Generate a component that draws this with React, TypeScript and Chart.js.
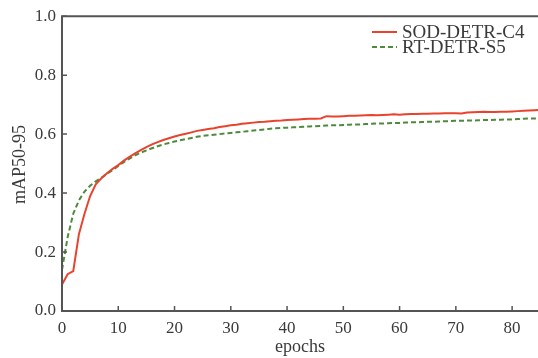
import React, { useEffect, useRef } from "react";
import { Chart, registerables } from "chart.js";

Chart.register(...registerables);

const epochs: number[] = Array.from({ length: 86 }, (_, i) => i);

const sodDetrC4: number[] = [
  0.09, 0.125, 0.135, 0.26, 0.33, 0.39, 0.43, 0.45, 0.467, 0.482,
  0.495, 0.51, 0.523, 0.535, 0.546, 0.556, 0.565, 0.573, 0.58, 0.586,
  0.592, 0.597, 0.601, 0.606, 0.611, 0.614, 0.617, 0.62, 0.624, 0.627,
  0.63, 0.632, 0.635, 0.637, 0.639, 0.641, 0.642, 0.644, 0.645, 0.646,
  0.648, 0.649, 0.65, 0.651, 0.652, 0.652, 0.653, 0.661, 0.66, 0.66,
  0.661, 0.662, 0.662, 0.663, 0.664, 0.665, 0.664, 0.665, 0.666, 0.667,
  0.666, 0.667, 0.668, 0.668, 0.669, 0.669, 0.67, 0.67, 0.671, 0.671,
  0.671, 0.67, 0.673, 0.674, 0.675, 0.676, 0.675, 0.675, 0.676, 0.676,
  0.677, 0.678, 0.679, 0.68, 0.681, 0.682,
];

const rtDetrS5: number[] = [
  0.14, 0.25, 0.33, 0.375, 0.405, 0.425, 0.44, 0.452, 0.465, 0.478,
  0.492, 0.505, 0.517, 0.528, 0.537, 0.545, 0.552, 0.559, 0.565, 0.57,
  0.575, 0.579, 0.583, 0.587, 0.591, 0.594, 0.596, 0.598, 0.6, 0.602,
  0.604, 0.606, 0.608, 0.61, 0.612, 0.614, 0.616, 0.618, 0.62, 0.621,
  0.622, 0.623, 0.624, 0.625, 0.626, 0.627, 0.628, 0.629, 0.63, 0.63,
  0.631, 0.632, 0.633, 0.633, 0.634, 0.635, 0.636, 0.636, 0.637, 0.638,
  0.638, 0.639, 0.64, 0.64, 0.641, 0.642, 0.642, 0.643, 0.644, 0.644,
  0.645, 0.645, 0.646, 0.646, 0.647, 0.648, 0.648, 0.649, 0.649, 0.65,
  0.65, 0.651, 0.652, 0.653, 0.653, 0.654,
];

const seriesNames: string[] = ["SOD-DETR-C4", "RT-DETR-S5"];
const seriesColors: string[] = ["#e8432d", "#4b8b3b"];
const xTicks: number[] = [0, 10, 20, 30, 40, 50, 60, 70, 80];
const yTicks: number[] = [0, 0.2, 0.4, 0.6, 0.8, 1.0];
const xTitle = "epochs";
const yTitle = "mAP50-95";

const FONT = "'Liberation Serif', 'Times New Roman', serif";
const AXIS = "#555555";
const TEXT = "#3a3a3a";

const framePlugin = {
  id: "frame",
  afterDraw(chart: any) {
    const { ctx, chartArea, scales } = chart;
    const { left, right, top, bottom } = chartArea;
    ctx.save();
    ctx.strokeStyle = AXIS;
    ctx.lineWidth = 2;
    ctx.beginPath();
    ctx.moveTo(left, bottom);
    ctx.lineTo(left, top);
    ctx.lineTo(right + 2, top);
    ctx.moveTo(left - 1, bottom);
    ctx.lineTo(right + 2, bottom);
    ctx.stroke();
    // inward ticks
    ctx.lineWidth = 1.5;
    ctx.beginPath();
    scales.x.ticks.forEach((t: any) => {
      const x = scales.x.getPixelForValue(t.value);
      ctx.moveTo(x, bottom);
      ctx.lineTo(x, bottom - 5);
    });
    scales.y.ticks.forEach((t: any) => {
      const y = scales.y.getPixelForValue(t.value);
      ctx.moveTo(left, y);
      ctx.lineTo(left + 5, y);
    });
    ctx.stroke();

    // y axis title
    ctx.save();
    ctx.translate(20, (top + bottom) / 2 + 1);
    ctx.rotate(-Math.PI / 2);
    ctx.font = `18px ${FONT}`;
    ctx.fillStyle = TEXT;
    ctx.textAlign = "center";
    ctx.textBaseline = "middle";
    ctx.fillText(yTitle, 0, 0);
    ctx.restore();

    // legend
    ctx.font = `19px ${FONT}`;
    ctx.textBaseline = "middle";
    ctx.textAlign = "left";
    const rows = [32, 47];
    seriesNames.forEach((name, i) => {
      ctx.strokeStyle = seriesColors[i];
      ctx.lineWidth = 2;
      ctx.setLineDash(i === 1 ? [5, 3] : []);
      ctx.beginPath();
      ctx.moveTo(372, rows[i]);
      ctx.lineTo(397, rows[i]);
      ctx.stroke();
      ctx.setLineDash([]);
      ctx.fillStyle = TEXT;
      ctx.fillText(name, 402, rows[i] + 1);
    });
    ctx.restore();
  },
};

export default function App() {
  const ref = useRef<HTMLCanvasElement | null>(null);

  useEffect(() => {
    if (!ref.current) return;
    const chart = new Chart(ref.current, {
      type: "line",
      data: {
        labels: epochs,
        datasets: [
          {
            label: seriesNames[0],
            data: epochs.map((e, i) => ({ x: e, y: sodDetrC4[i] })),
            borderColor: seriesColors[0],
            borderWidth: 2,
            pointRadius: 0,
            tension: 0,
            fill: false,
          },
          {
            label: seriesNames[1],
            data: epochs.map((e, i) => ({ x: e, y: rtDetrS5[i] })),
            borderColor: seriesColors[1],
            borderWidth: 2,
            borderDash: [5, 3],
            pointRadius: 0,
            tension: 0,
            fill: false,
          },
        ],
      },
      options: {
        animation: false,
        responsive: false,
        layout: { padding: { top: 14, right: 0, left: 0, bottom: 0 } },
        plugins: { legend: { display: false }, tooltip: { enabled: false } },
        scales: {
          x: {
            type: "linear",
            min: 0,
            max: 84.6,
            afterBuildTicks: (s: any) => {
              s.ticks = xTicks.map((v) => ({ value: v }));
            },
            afterFit: (s: any) => {
              s.height = 47;
            },
            grid: { display: false, drawTicks: false },
            border: { display: false },
            ticks: {
              color: TEXT,
              font: { family: FONT, size: 17 },
              padding: 7,
              maxRotation: 0,
              callback: (v: any) => String(v),
            },
            title: {
              display: true,
              text: xTitle,
              color: TEXT,
              font: { family: FONT, size: 18 },
              padding: { top: -7, bottom: 0 },
            },
          },
          y: {
            min: 0,
            max: 1,
            afterBuildTicks: (s: any) => {
              s.ticks = yTicks.map((v) => ({ value: v }));
            },
            afterFit: (s: any) => {
              s.width = 62;
            },
            grid: { display: false, drawTicks: false },
            border: { display: false },
            ticks: {
              color: TEXT,
              font: { family: FONT, size: 17 },
              padding: 6,
              callback: (v: any) => Number(v).toFixed(1),
            },
          },
        },
      },
      plugins: [framePlugin],
    });
    return () => chart.destroy();
  }, []);

  return (
    <div style={{ position: "absolute", left: 0, top: 0, width: 538, height: 358, background: "#fff" }}>
      <canvas ref={ref} width={538} height={358} style={{ display: "block" }} />
    </div>
  );
}
